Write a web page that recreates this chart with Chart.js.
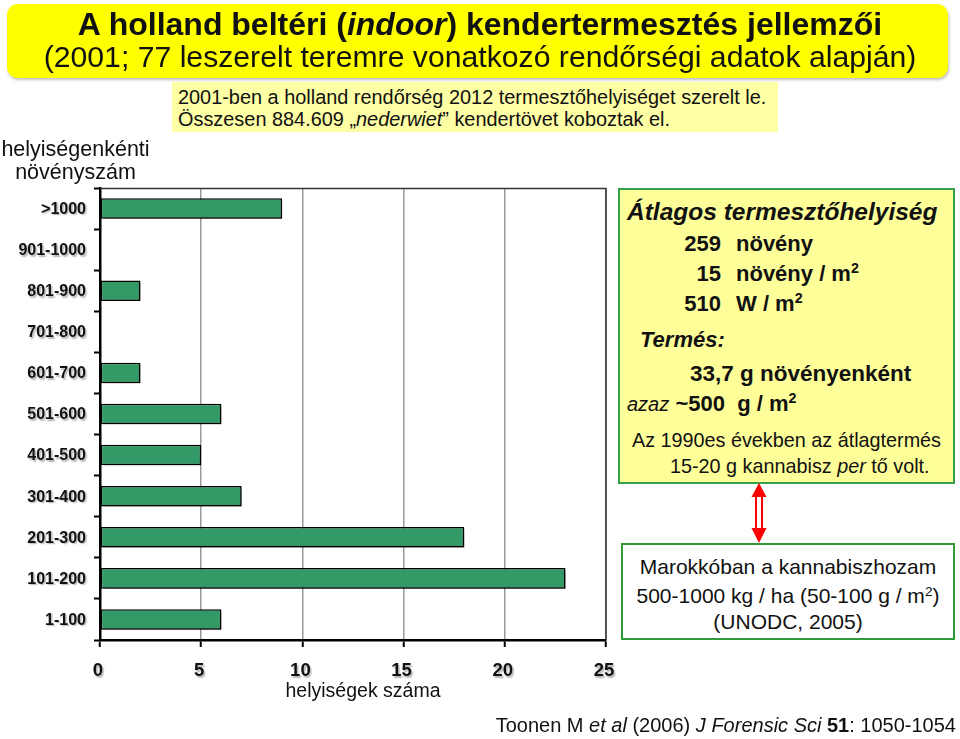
<!DOCTYPE html>
<html><head><meta charset="utf-8">
<script src="https://cdn.jsdelivr.net/npm/chart.js@4/dist/chart.umd.min.js"></script>
<style>
html,body{margin:0;padding:0}
body{width:960px;height:739px;position:relative;background:#fff;font-family:"Liberation Sans",Arial,sans-serif;color:#111;overflow:hidden}
#wrap{position:absolute;left:0;top:0;width:960px;height:739px}
.box{position:absolute;box-sizing:border-box}
.t{position:absolute;white-space:nowrap}
sup{font-size:65%;vertical-align:0;position:relative;top:-0.55em}
</style></head><body>
<div id="wrap"><canvas id="c" width="960" height="739"></canvas></div>

<div class="box" style="left:7px;top:4px;width:941px;height:74px;background:#ffff00;border-radius:11px;box-shadow:1px 2px 3px rgba(0,0,0,0.25)"></div>
<div class="t" style="left:0;width:960px;text-align:center;top:7px;line-height:34px;font-size:32px;font-weight:bold">A holland beltéri (<i>indoor</i>) kendertermesztés jellemzői</div>
<div class="t" style="left:0;width:960px;text-align:center;top:40px;line-height:34px;font-size:30.2px">(2001; 77 leszerelt teremre vonatkozó rendőrségi adatok alapján)</div>

<div class="box" style="left:172px;top:82px;width:606px;height:50px;background:#ffffa6"></div>
<div class="t" style="left:178px;top:86px;line-height:22px;font-size:19.9px">2001-ben a holland rendőrség 2012 termesztőhelyiséget szerelt le.</div>
<div class="t" style="left:178px;top:108px;line-height:22px;font-size:19.9px">Összesen 884.609 „<i>nederwiet</i>” kendertövet koboztak el.</div>

<div class="t" style="left:0;width:151px;text-align:center;top:138px;line-height:23px;font-size:21.5px">helyiségenkénti<br>növényszám</div>

<div class="box" style="left:618px;top:188px;width:337px;height:296px;background:#ffff99;border:2px solid #33a04a"></div>
<div class="t" style="left:627px;top:198px;line-height:28px;font-size:24.5px;font-weight:bold;font-style:italic">Átlagos termesztőhelyiség</div>
<div class="t" style="right:239px;top:230px;line-height:28px;font-size:22px;font-weight:bold;text-align:right">259</div>
<div class="t" style="left:736px;top:230px;line-height:28px;font-size:22px;font-weight:bold">növény</div>
<div class="t" style="right:239px;top:260px;line-height:28px;font-size:22px;font-weight:bold;text-align:right">15</div>
<div class="t" style="left:736px;top:260px;line-height:28px;font-size:22px;font-weight:bold">növény / m<sup>2</sup></div>
<div class="t" style="right:239px;top:290px;line-height:28px;font-size:22px;font-weight:bold;text-align:right">510</div>
<div class="t" style="left:736px;top:290px;line-height:28px;font-size:22px;font-weight:bold">W / m<sup>2</sup></div>
<div class="t" style="left:640px;top:326px;line-height:28px;font-size:22px;font-weight:bold;font-style:italic">Termés:</div>
<div class="t" style="left:690px;top:360px;line-height:28px;font-size:22.5px;font-weight:bold">33,7 g növényenként</div>
<div class="t" style="left:627px;top:390px;line-height:28px;font-size:22px"><i style="font-size:20px">azaz</i> <b>~500&nbsp; g / m<sup>2</sup></b></div>
<div class="t" style="left:632px;top:428px;line-height:24px;font-size:19.8px">Az 1990es években az átlagtermés</div>
<div class="t" style="left:670px;top:454px;line-height:24px;font-size:19.8px">15-20 g kannabisz <i>per</i> tő volt.</div>

<svg style="position:absolute;left:745px;top:482px" width="28" height="62">
 <line x1="11" y1="12" x2="11" y2="50" stroke="#ff0000" stroke-width="2"/>
 <line x1="17" y1="12" x2="17" y2="50" stroke="#ff0000" stroke-width="2"/>
 <polygon points="14,1 6.5,15 21.5,15" fill="#ff0000"/>
 <polygon points="14,61 6.5,46 21.5,46" fill="#ff0000"/>
</svg>

<div class="box" style="left:621px;top:543px;width:334px;height:97px;background:#fff;border:2px solid #2f9a3a"></div>
<div class="t" style="left:621px;width:334px;text-align:center;top:552px;line-height:29px;font-size:21px">Marokkóban a kannabiszhozam<br>500-1000 kg / ha (50-100 g / m<sup>2</sup>)</div>
<div class="t" style="left:621px;width:334px;text-align:center;top:609px;line-height:26px;font-size:21px">(UNODC, 2005)</div>

<div class="t" style="right:4px;top:713px;line-height:24px;font-size:20px">Toonen M <i>et al</i> (2006) <i>J Forensic Sci</i> <b>51</b>: 1050-1054</div>

<script>
const categories = ['>1000','901-1000','801-900','701-800','601-700','501-600','401-500','301-400','201-300','101-200','1-100'];
const roomCounts = [9,0,2,0,2,6,5,7,18,23,6];
const xTickValues = [0,5,10,15,20,25];
const xAxisTitle = 'helyiségek száma';

const FONT = '"Liberation Sans", Arial, sans-serif';

const shadowLabels = {
  id: 'shadowLabels',
  beforeDatasetsDraw(chart){
    const ctx = chart.ctx;
    ctx.save();
    ctx.shadowColor = 'rgba(0,0,0,0.45)';
    ctx.shadowOffsetX = 2.5; ctx.shadowOffsetY = 2.5; ctx.shadowBlur = 2;
  },
  afterDatasetsDraw(chart){ chart.ctx.restore(); },
  afterDraw(chart){
    const {ctx, chartArea:a, scales:{x, y}} = chart;
    ctx.save();
    ctx.strokeStyle = '#333'; ctx.lineWidth = 1.5;
    ctx.beginPath(); ctx.moveTo(a.left, a.top + 0.5); ctx.lineTo(a.right, a.top + 0.5); ctx.lineTo(a.right, a.bottom); ctx.stroke();
    // axis title
    ctx.fillStyle = '#111';
    ctx.font = '19.5px ' + FONT;
    ctx.textAlign = 'center'; ctx.textBaseline = 'middle';
    ctx.fillText(xAxisTitle, (a.left + a.right) / 2 + 10, a.bottom + 52);
    // tick labels with soft shadow
    ctx.shadowColor = 'rgba(0,0,0,0.3)';
    ctx.shadowOffsetX = 1.5; ctx.shadowOffsetY = 1.5; ctx.shadowBlur = 1.5;
    ctx.font = 'bold 16px ' + FONT;
    ctx.textAlign = 'right';
    categories.forEach((c, i) => ctx.fillText(c, a.left - 14, y.getPixelForValue(i) + 1));
    ctx.font = 'bold 18.5px ' + FONT;
    ctx.textAlign = 'center';
    xTickValues.forEach(v => ctx.fillText(String(v), x.getPixelForValue(v) - 2, a.bottom + 31));
    ctx.restore();
  }
};

new Chart(document.getElementById('c'), {
  type: 'bar',
  data: {
    labels: categories,
    datasets: [{
      data: roomCounts,
      backgroundColor: '#339966',
      borderColor: '#000',
      borderWidth: c => (c.raw === 0 ? 0 : 1.5),
      borderSkipped: false,
      categoryPercentage: 1,
      barPercentage: 0.5
    }]
  },
  options: {
    indexAxis: 'y',
    responsive: false,
    animation: false,
    devicePixelRatio: 1,
    layout: { padding: { left: 0, top: 188, right: 354, bottom: 37 } },
    plugins: { legend: { display: false }, tooltip: { enabled: false } },
    scales: {
      x: {
        min: xTickValues[0], max: xTickValues[xTickValues.length - 1],
        ticks: { stepSize: 5, color: 'rgba(0,0,0,0)', font: { size: 18, weight: 'bold', family: FONT } },
        grid: { color: '#9a9a9a', lineWidth: 1.5, drawTicks: true, tickLength: 7, tickColor: '#000', tickWidth: 2 },
        border: { color: '#000', width: 2.5 },
        title: { display: false },
        afterFit: s => { s.height = 62; }
      },
      y: {
        ticks: { color: 'rgba(0,0,0,0)', font: { size: 15, weight: 'bold', family: FONT } },
        grid: { drawOnChartArea: false, drawTicks: true, tickLength: 6, tickColor: '#000', tickWidth: 2, offset: true },
        border: { color: '#000', width: 2.5 },
        afterFit: s => { s.width = 100; }
      }
    }
  },
  plugins: [shadowLabels]
});
</script>
</body></html>
